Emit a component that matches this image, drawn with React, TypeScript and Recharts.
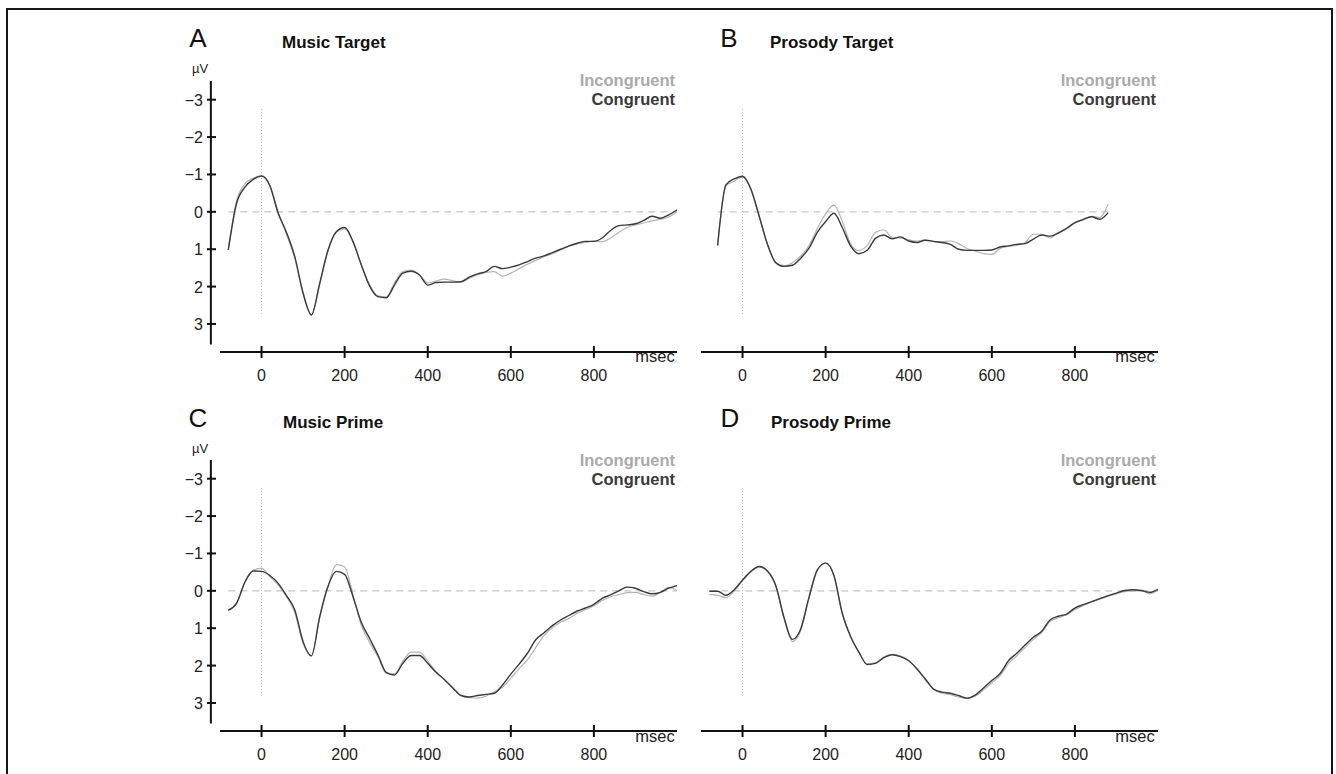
import { LineChart, Line, XAxis, YAxis, ReferenceLine } from 'recharts';

const FONT = "'Liberation Sans', Arial, Helvetica, sans-serif";
const DARK = '#3a3a3a';
const LIGHT = '#b4b4b4';

// time axis in msec
const timeMs = [
  -80, -60, -40, -20, 0, 20, 40, 60, 80, 100, 120, 140, 160, 180, 200, 220, 240, 260, 280, 300,
  320, 340, 360, 380, 400, 420, 440, 460, 480, 500, 520, 540, 560, 580, 600, 620, 640, 660, 680, 700,
  720, 740, 760, 780, 800, 820, 840, 860, 880, 900, 920, 940, 960, 980, 1000,
];
const timeMsProsodyTarget = [
  -60, -40, -20, 0, 20, 40, 60, 80, 100, 120, 140, 160, 180, 200, 220, 240, 260, 280, 300, 320,
  340, 360, 380, 400, 420, 440, 460, 480, 500, 520, 540, 560, 580, 600, 620, 640, 660, 680, 700, 720,
  740, 760, 780, 800, 820, 840, 860, 880,
];

const xTicks = [0, 200, 400, 600, 800];
const yTicks = [-3, -2, -1, 0, 1, 2, 3];

// µV values (negative up)
const musicTargetCongruent = [
  1.02, -0.23, -0.66, -0.87, -0.96, -0.7, 0.04, 0.55, 1.2, 2.18,
  2.76, 1.91, 1.02, 0.53, 0.42, 0.79, 1.42, 1.98, 2.27, 2.3,
  1.96, 1.64, 1.59, 1.69, 1.96, 1.89, 1.88, 1.88, 1.87, 1.75,
  1.66, 1.6, 1.46, 1.52, 1.48, 1.42, 1.33, 1.24, 1.18, 1.09,
  1.0, 0.91, 0.84, 0.79, 0.79, 0.7, 0.5, 0.37, 0.35, 0.32,
  0.23, 0.12, 0.17, 0.08, -0.05,
];
const musicTargetIncongruent = [
  1.0, -0.3, -0.75, -0.9, -0.96, -0.72, 0.0, 0.6, 1.25, 2.15,
  2.75, 1.95, 1.05, 0.55, 0.46, 0.8, 1.4, 1.95, 2.25, 2.28,
  1.9, 1.6, 1.56, 1.68, 1.9, 1.85, 1.8, 1.84, 1.88, 1.78,
  1.68, 1.62, 1.6, 1.72, 1.64, 1.52, 1.4, 1.3, 1.2, 1.12,
  1.02, 0.92, 0.86, 0.82, 0.78, 0.8, 0.7, 0.55, 0.42, 0.35,
  0.3, 0.24, 0.2, 0.14, 0.0,
];

const prosodyTargetCongruent = [
  0.9, -0.72, -0.88, -0.95, -0.61, 0.11, 0.87, 1.36, 1.46, 1.43,
  1.24, 0.97, 0.55, 0.26, 0.04, 0.42, 0.91, 1.12, 1.03, 0.71,
  0.62, 0.72, 0.67, 0.78, 0.82, 0.76, 0.79, 0.82, 0.87, 1.0,
  1.03, 1.03, 1.03, 1.02, 0.94, 0.91, 0.87, 0.85, 0.73, 0.62,
  0.65, 0.57, 0.44, 0.29, 0.2, 0.13, 0.2, 0.02,
];
const prosodyTargetIncongruent = [
  0.9, -0.7, -0.82, -0.93, -0.6, 0.12, 0.88, 1.36, 1.44, 1.36,
  1.18, 0.9, 0.45, 0.05, -0.18, 0.25, 0.85, 1.04, 0.9, 0.55,
  0.48, 0.68, 0.7, 0.75, 0.78, 0.75, 0.8, 0.8, 0.78, 0.85,
  0.98, 1.05, 1.12, 1.14, 0.98, 0.92, 0.9, 0.82, 0.6, 0.6,
  0.7, 0.55, 0.45, 0.3, 0.22, 0.12, 0.15, -0.2,
];

const musicPrimeCongruent = [
  0.52, 0.33, -0.23, -0.53, -0.52, -0.41, -0.2, 0.13, 0.51, 1.36,
  1.74, 0.69, -0.12, -0.52, -0.44, 0.15, 0.84, 1.27, 1.71, 2.18,
  2.25, 1.94, 1.73, 1.73, 1.94, 2.18, 2.37, 2.59, 2.8, 2.84,
  2.8, 2.77, 2.74, 2.52, 2.23, 1.96, 1.67, 1.31, 1.12, 0.93,
  0.78, 0.66, 0.54, 0.46, 0.36, 0.2, 0.11, 0.0, -0.1, -0.07,
  0.02, 0.08, 0.04, -0.07, -0.14,
];
const musicPrimeIncongruent = [
  0.52, 0.33, -0.25, -0.55, -0.6, -0.38, -0.15, 0.15, 0.58, 1.4,
  1.74, 0.72, -0.12, -0.7, -0.64, 0.1, 0.92, 1.38, 1.76, 2.2,
  2.22, 1.88, 1.64, 1.64, 1.88, 2.16, 2.38, 2.6, 2.8, 2.86,
  2.87, 2.82, 2.7, 2.58, 2.34, 2.08, 1.85, 1.52, 1.2, 0.98,
  0.84, 0.74, 0.6, 0.5, 0.4, 0.26, 0.16, 0.1, 0.05, 0.04,
  0.1, 0.14, 0.04, -0.09, 0.0,
];

const prosodyPrimeCongruent = [
  0.01, 0.01, 0.12, -0.03, -0.29, -0.52, -0.65, -0.53, -0.14, 0.72,
  1.3, 1.02, 0.17, -0.56, -0.74, -0.41, 0.6, 1.22, 1.64, 1.97,
  1.94, 1.79, 1.71, 1.76, 1.87, 2.09, 2.36, 2.63, 2.71, 2.74,
  2.8, 2.87, 2.79, 2.6, 2.4, 2.21, 1.87, 1.67, 1.45, 1.24,
  1.08, 0.78, 0.68, 0.62, 0.46, 0.37, 0.29, 0.21, 0.13, 0.06,
  -0.01, -0.03, -0.01, 0.04, -0.04,
];
const prosodyPrimeIncongruent = [
  0.1, 0.12, 0.18, 0.0, -0.27, -0.5, -0.64, -0.52, -0.12, 0.75,
  1.36, 1.06, 0.2, -0.54, -0.74, -0.4, 0.6, 1.22, 1.64, 1.96,
  1.92, 1.77, 1.7, 1.74, 1.86, 2.1, 2.38, 2.64, 2.74, 2.78,
  2.84, 2.88, 2.82, 2.65, 2.46, 2.27, 1.95, 1.74, 1.52, 1.3,
  1.12, 0.82, 0.72, 0.64, 0.5, 0.4, 0.3, 0.22, 0.15, 0.08,
  0.02, 0.0, 0.0, 0.08, -0.02,
];

const fmtY = (v: number) => (v < 0 ? '\u2212' + Math.abs(v) : String(v));

const XTick = (props: any) => {
  const { x, y, payload } = props;
  return (
    <g>
      <line x1={x} y1={y - 6} x2={x} y2={y + 6} stroke="#111" strokeWidth={2} />
      <text x={x} y={y + 29} textAnchor="middle" fontSize={16} fill="#222" fontFamily={FONT}>
        {payload.value}
      </text>
    </g>
  );
};

const YTick = (props: any) => {
  const { x, y, payload } = props;
  return (
    <g>
      <line x1={x - 4} y1={y} x2={x + 5} y2={y} stroke="#111" strokeWidth={2} />
      <text x={x - 8} y={y + 6} textAnchor="end" fontSize={16} fill="#222" fontFamily={FONT}>
        {fmtY(payload.value)}
      </text>
    </g>
  );
};

type PanelProps = {
  left: number;
  top: number;
  time: number[];
  incongruent: number[];
  congruent: number[];
  showY: boolean;
};

function Panel({ left, top, time, incongruent, congruent, showY }: PanelProps) {
  const data = time.map((t, i) => ({ t, inc: incongruent[i], con: congruent[i] }));
  const first = time[0];
  const last = time[time.length - 1];
  return (
    <div style={{ position: 'absolute', left, top }}>
      <LineChart
        width={560}
        height={380}
        data={data}
        margin={{ top: 61, right: 23, bottom: 8, left: showY ? 20 : 80 }}
      >
        <XAxis
          type="number"
          dataKey="t"
          domain={[-100, 1000]}
          ticks={xTicks}
          tick={XTick}
          tickSize={0}
          tickMargin={0}
          tickLine={false}
          axisLine={{ stroke: '#111', strokeWidth: 2 }}
          height={40}
        />
        <YAxis
          type="number"
          domain={[-3.5, 3.75]}
          reversed
          ticks={yTicks}
          tick={YTick}
          tickSize={0}
          tickMargin={9}
          tickLine={false}
          axisLine={false}
          width={60}
          hide={!showY}
        />
        {showY && (
          <ReferenceLine
            segment={[{ x: -122, y: -3.5 }, { x: -122, y: 3.55 }]}
            stroke="#111"
            strokeWidth={2}
            ifOverflow="visible"
          />
        )}
        <ReferenceLine
          segment={[{ x: first, y: 0 }, { x: last, y: 0 }]}
          stroke="#c6c6c6"
          strokeWidth={1.3}
          strokeDasharray="7 5"
          ifOverflow="visible"
        />
        <ReferenceLine
          segment={[{ x: 0, y: -2.75 }, { x: 0, y: 2.8 }]}
          stroke="#bdbdbd"
          strokeWidth={1}
          strokeDasharray="1 2"
          ifOverflow="visible"
        />
        <Line
          type="monotone"
          dataKey="inc"
          stroke={LIGHT}
          strokeWidth={1.2}
          dot={false}
          isAnimationActive={false}
        />
        <Line
          type="monotone"
          dataKey="con"
          stroke={DARK}
          strokeWidth={1.4}
          dot={false}
          isAnimationActive={false}
        />
      </LineChart>
    </div>
  );
}

function Labels({ dy, letter, letterX, title, titleX, legendX, msecX, showUnit }: any) {
  return (
    <g fontFamily={FONT}>
      <text x={letterX} y={47 + dy} fontSize={26} textAnchor="middle" fill="#111">{letter}</text>
      <text x={titleX} y={48 + dy} fontSize={17} fontWeight="bold" fill="#111">{title}</text>
      {showUnit && (
        <text x={200} y={73 + dy} fontSize={13} textAnchor="middle" fill="#222">µV</text>
      )}
      <text x={legendX} y={86 + dy} fontSize={16.5} fontWeight="bold" textAnchor="end" fill="#aaaaaa">Incongruent</text>
      <text x={legendX} y={105 + dy} fontSize={16.5} fontWeight="bold" textAnchor="end" fill="#3a3a3a">Congruent</text>
      <text x={msecX} y={362 + dy} fontSize={16.5} textAnchor="middle" fill="#222">msec</text>
    </g>
  );
}

export default function App() {
  return (
    <div
      style={{
        position: 'absolute',
        left: 0,
        top: 0,
        width: 1336,
        height: 774,
        overflow: 'hidden',
        background: '#fff',
        fontFamily: FONT,
      }}
    >
      <div
        style={{
          position: 'absolute',
          left: 6,
          top: 8,
          width: 1327,
          height: 800,
          border: '2px solid #161616',
          boxSizing: 'border-box',
        }}
      />
      <Panel left={140} top={20} time={timeMs} incongruent={musicTargetIncongruent} congruent={musicTargetCongruent} showY />
      <Panel left={621} top={20} time={timeMsProsodyTarget} incongruent={prosodyTargetIncongruent} congruent={prosodyTargetCongruent} showY={false} />
      <Panel left={140} top={399} time={timeMs} incongruent={musicPrimeIncongruent} congruent={musicPrimeCongruent} showY />
      <Panel left={621} top={399} time={timeMs} incongruent={prosodyPrimeIncongruent} congruent={prosodyPrimeCongruent} showY={false} />
      <svg width={1336} height={774} style={{ position: 'absolute', left: 0, top: 0, pointerEvents: 'none' }}>
        <Labels dy={0} letter="A" letterX={198} title="Music Target" titleX={282} legendX={675} msecX={655} showUnit />
        <Labels dy={0} letter="B" letterX={729} title="Prosody Target" titleX={770} legendX={1156} msecX={1135} showUnit={false} />
        <Labels dy={380} letter="C" letterX={198} title="Music Prime" titleX={283} legendX={675} msecX={655} showUnit />
        <Labels dy={380} letter="D" letterX={730} title="Prosody Prime" titleX={771} legendX={1156} msecX={1135} showUnit={false} />
      </svg>
    </div>
  );
}
